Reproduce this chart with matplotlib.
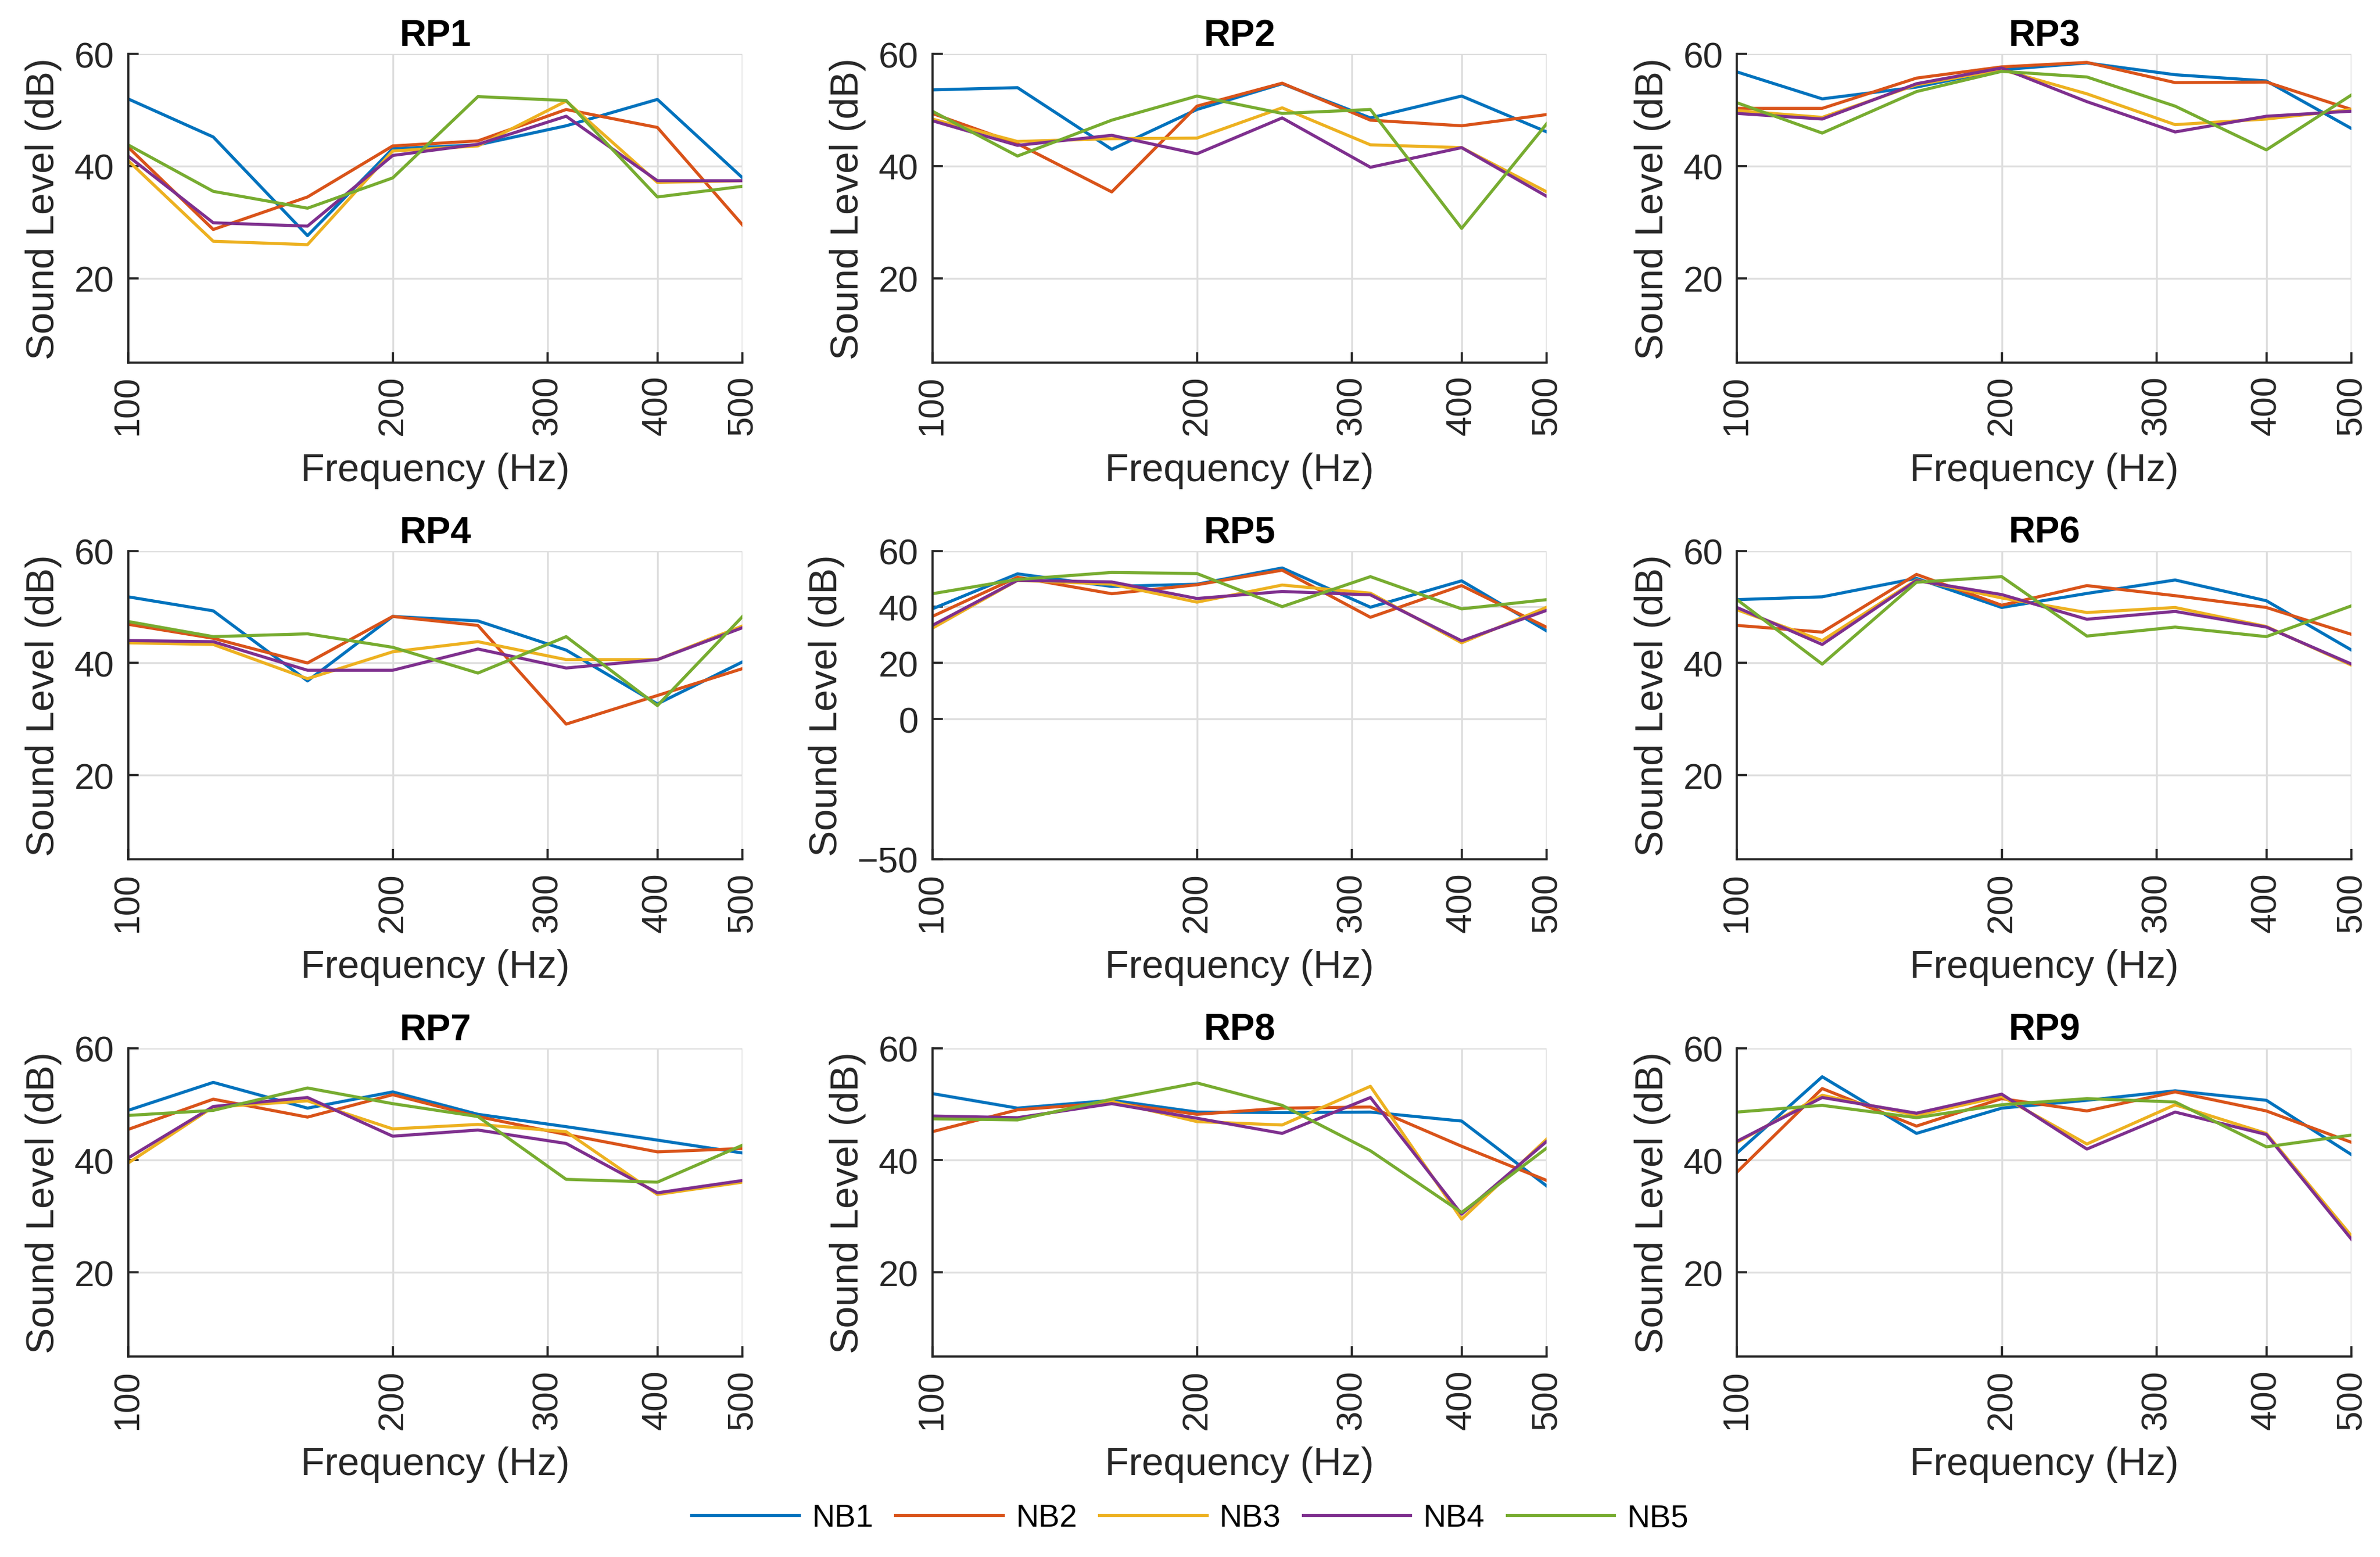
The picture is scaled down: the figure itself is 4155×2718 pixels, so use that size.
import matplotlib
matplotlib.use("Agg")
import matplotlib.pyplot as plt
from matplotlib.ticker import FixedLocator, NullLocator

plt.rcParams['font.family'] = ['Liberation Sans', 'DejaVu Sans']

freqs = [100, 125, 160, 200, 250, 315, 400, 500]
series = ["NB1", "NB2", "NB3", "NB4", "NB5"]
colors = ["#0072BD", "#D95319", "#EDB120", "#7E2F8E", "#77AC30"]

rp1 = [[52.0, 45.2, 27.6, 43.1, 43.8, 47.2, 51.9, 37.9],
       [43.4, 28.7, 34.5, 43.6, 44.5, 50.1, 46.9, 29.5],
       [41.0, 26.6, 26.0, 42.7, 43.6, 51.6, 37.1, 37.4],
       [41.8, 29.9, 29.3, 41.9, 43.9, 48.9, 37.4, 37.4],
       [43.8, 35.5, 32.5, 37.9, 52.4, 51.7, 34.5, 36.4]]
rp2 = [[53.6, 54.0, 43.0, 50.1, 54.7, 48.6, 52.5, 46.1],
       [49.4, 44.0, 35.4, 50.7, 54.8, 48.2, 47.2, 49.2],
       [48.4, 44.4, 44.9, 45.0, 50.4, 43.8, 43.3, 35.4],
       [48.1, 43.7, 45.5, 42.2, 48.6, 39.8, 43.3, 34.6],
       [49.8, 41.8, 48.2, 52.5, 49.4, 50.1, 28.9, 47.6]]
rp3 = [[56.8, 52.0, 54.1, 57.2, 58.4, 56.3, 55.2, 46.7],
       [50.3, 50.3, 55.7, 57.7, 58.5, 54.9, 55.0, 50.1],
       [49.9, 48.7, 54.5, 57.2, 52.9, 47.4, 48.4, 50.1],
       [49.4, 48.4, 54.7, 57.5, 51.5, 46.1, 48.9, 49.8],
       [51.3, 45.9, 53.3, 56.9, 55.9, 50.7, 42.9, 52.7]]
rp4 = [[51.8, 49.3, 36.8, 48.3, 47.5, 42.3, 32.7, 40.2],
       [46.9, 44.4, 40.0, 48.3, 46.7, 29.1, 34.2, 39.0],
       [43.6, 43.3, 37.2, 42.0, 43.8, 40.6, 40.6, 46.6],
       [44.0, 43.8, 38.7, 38.7, 42.5, 39.1, 40.6, 46.3],
       [47.4, 44.7, 45.2, 42.8, 38.2, 44.7, 32.4, 48.3]]
rp5 = [[39.3, 51.8, 47.3, 48.1, 53.9, 39.9, 49.3, 31.4],
       [36.6, 50.6, 44.7, 47.9, 53.1, 36.3, 47.6, 32.7],
       [32.4, 49.5, 48.1, 41.7, 47.8, 44.9, 27.2, 39.9],
       [33.4, 49.5, 48.9, 43.0, 45.5, 44.3, 27.9, 38.8],
       [44.7, 49.8, 52.3, 51.9, 40.1, 50.8, 39.3, 42.6]]
rp6 = [[51.3, 51.8, 55.1, 49.9, 52.4, 54.8, 51.1, 42.3],
       [46.7, 45.5, 55.8, 50.3, 53.8, 52.0, 49.9, 45.1],
       [49.5, 44.0, 54.8, 51.6, 49.0, 49.9, 46.5, 39.6],
       [49.9, 43.3, 54.7, 52.2, 47.8, 49.2, 46.4, 39.8],
       [51.3, 39.8, 54.4, 55.4, 44.8, 46.4, 44.7, 50.2]]
rp7 = [[48.9, 53.9, 49.3, 52.2, 48.2, 46.0, 43.6, 41.3],
       [45.5, 50.9, 47.7, 51.7, 47.8, 44.6, 41.5, 42.1],
       [39.5, 49.5, 50.6, 45.6, 46.4, 45.1, 33.9, 36.1],
       [40.4, 49.6, 51.2, 44.3, 45.4, 43.0, 34.2, 36.4],
       [48.0, 48.9, 52.9, 50.1, 47.8, 36.6, 36.1, 42.7]]
rp8 = [[51.9, 49.3, 50.7, 48.6, 48.5, 48.6, 47.0, 35.4],
       [45.1, 49.0, 50.3, 48.2, 49.3, 49.5, 42.5, 36.4],
       [47.6, 47.4, 50.5, 46.9, 46.3, 53.2, 29.5, 43.8],
       [47.9, 47.6, 50.1, 47.5, 44.8, 51.2, 30.4, 43.4],
       [47.4, 47.2, 50.9, 53.8, 49.8, 41.7, 30.7, 42.2]]
rp9 = [[41.3, 54.9, 44.8, 49.3, 50.7, 52.4, 50.7, 41.0],
       [37.9, 52.8, 46.1, 51.0, 48.8, 52.2, 48.8, 43.2],
       [43.2, 51.6, 48.0, 51.4, 42.9, 49.9, 44.8, 26.5],
       [43.4, 51.2, 48.4, 51.8, 42.0, 48.6, 44.6, 25.9],
       [48.6, 49.8, 47.6, 49.9, 51.0, 50.4, 42.4, 44.5]]

titles = ["RP1", "RP2", "RP3", "RP4", "RP5", "RP6", "RP7", "RP8", "RP9"]
data = [rp1, rp2, rp3, rp4, rp5, rp6, rp7, rp8, rp9]
ylims = [(5, 60)] * 9
ylims[4] = (-50, 60)
yticks = [-50, 0, 20, 40, 60]
xticks = [100, 200, 300, 400, 500]

fig = plt.figure(figsize=(15.68, 10.26), dpi=265)

lefts = [0.0538, 0.3917, 0.7298]
width = 0.2582
bottoms = [0.767, 0.448, 0.1287]
height = 0.198

axc = "#262626"
lines = []
for i, (title, d) in enumerate(zip(titles, data)):
    r, c = divmod(i, 3)
    ax = fig.add_axes([lefts[c], bottoms[r], width, height])
    for j, vals in enumerate(d):
        ln, = ax.plot(freqs, vals, color=colors[j], lw=1.45, label=series[j])
        if i == 0:
            lines.append(ln)
    ax.set_xscale("log")
    ax.set_xlim(100, 500)
    ax.xaxis.set_major_locator(FixedLocator(xticks))
    ax.xaxis.set_minor_locator(NullLocator())
    ax.set_xticklabels([str(t) for t in xticks], rotation=90)
    ax.set_yticks(yticks)
    ax.set_ylim(*ylims[i])
    ax.grid(True, color="#dedede", lw=0.9)
    ax.set_axisbelow(True)
    for s in ["top", "right"]:
        ax.spines[s].set_visible(False)
    for s in ["left", "bottom"]:
        ax.spines[s].set_color(axc)
        ax.spines[s].set_linewidth(1.0)
    ax.tick_params(direction="in", length=5, width=1.0, colors=axc,
                   labelsize=17, labelcolor=axc)
    ax.tick_params(axis="x", pad=6)
    ax.tick_params(axis="y", pad=6.5)
    ax.set_xlabel("Frequency (Hz)", fontsize=18.5, color=axc, labelpad=8)
    ax.set_ylabel("Sound Level (dB)", fontsize=18.5, color=axc, labelpad=6)
    ax.set_title(title, fontsize=17.5, fontweight="bold", pad=4)

fig.legend(lines, series, loc="lower center", ncol=5, frameon=False,
           fontsize=15, handlelength=3.4, handletextpad=0.4,
           columnspacing=0.7, bbox_to_anchor=(0.5, -0.003))

fig.savefig("out.png", dpi=265)
